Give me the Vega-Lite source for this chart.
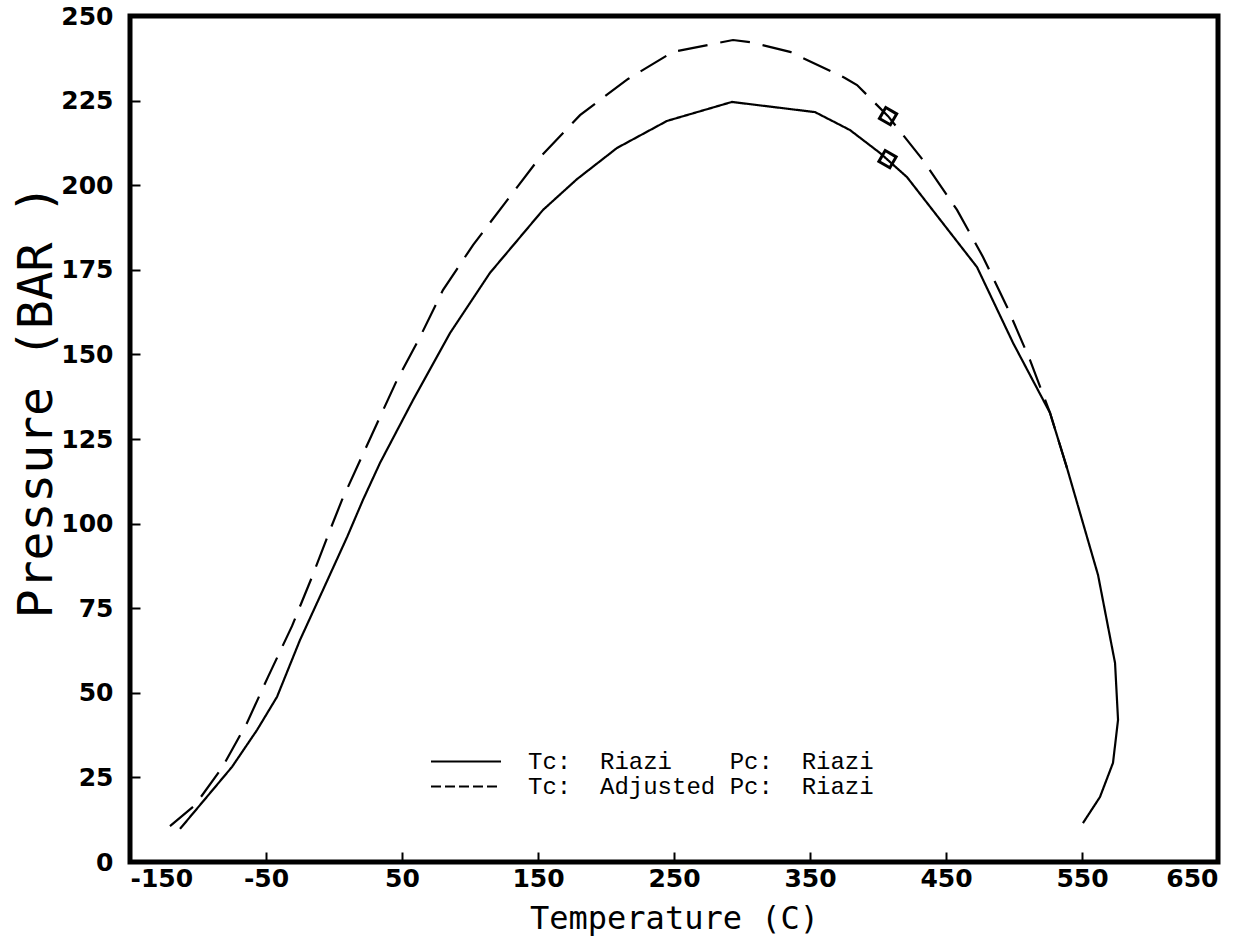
{
  "$schema": "https://vega.github.io/schema/vega-lite/v6.json",
  "width": 1088,
  "height": 846,
  "autosize": {"type": "none"},
  "padding": {"left": 130, "top": 16, "right": 20, "bottom": 85},
  "background": "white",
  "config": {
    "view": {"stroke": "black", "strokeWidth": 5},
    "axis": {
      "grid": false,
      "domain": false,
      "labelFont": "DejaVu Sans",
      "labelFontWeight": "bold",
      "labelFontSize": 25,
      "labelColor": "black",
      "tickColor": "black",
      "tickWidth": 2,
      "tickSize": -10,
      "titleFont": "DejaVu Sans Mono",
      "titleFontWeight": "normal",
      "titleColor": "black"
    }
  },
  "datasets": {
    "curves": [
      {"series": "Riazi", "i": 1, "T": -113.2, "P": 9.8},
      {"series": "Riazi", "i": 2, "T": -75.0, "P": 28.1},
      {"series": "Riazi", "i": 3, "T": -56.6, "P": 39.0},
      {"series": "Riazi", "i": 4, "T": -41.9, "P": 48.8},
      {"series": "Riazi", "i": 5, "T": -25.0, "P": 65.6},
      {"series": "Riazi", "i": 6, "T": -8.1, "P": 80.4},
      {"series": "Riazi", "i": 7, "T": 9.6, "P": 96.0},
      {"series": "Riazi", "i": 8, "T": 21.3, "P": 107.0},
      {"series": "Riazi", "i": 9, "T": 33.8, "P": 117.9},
      {"series": "Riazi", "i": 10, "T": 58.1, "P": 136.5},
      {"series": "Riazi", "i": 11, "T": 85.3, "P": 156.3},
      {"series": "Riazi", "i": 12, "T": 114.7, "P": 174.1},
      {"series": "Riazi", "i": 13, "T": 153.7, "P": 192.7},
      {"series": "Riazi", "i": 14, "T": 178.7, "P": 201.8},
      {"series": "Riazi", "i": 15, "T": 208.1, "P": 211.0},
      {"series": "Riazi", "i": 16, "T": 244.9, "P": 219.0},
      {"series": "Riazi", "i": 17, "T": 292.6, "P": 224.6},
      {"series": "Riazi", "i": 18, "T": 353.7, "P": 221.6},
      {"series": "Riazi", "i": 19, "T": 379.4, "P": 216.3},
      {"series": "Riazi", "i": 20, "T": 401.5, "P": 209.5},
      {"series": "Riazi", "i": 21, "T": 421.3, "P": 202.4},
      {"series": "Riazi", "i": 22, "T": 472.8, "P": 175.8},
      {"series": "Riazi", "i": 23, "T": 499.3, "P": 153.4},
      {"series": "Riazi", "i": 24, "T": 526.5, "P": 132.7},
      {"series": "Riazi", "i": 25, "T": 539.0, "P": 116.4},
      {"series": "Riazi", "i": 26, "T": 561.8, "P": 84.8},
      {"series": "Riazi", "i": 27, "T": 574.3, "P": 58.8},
      {"series": "Riazi", "i": 28, "T": 576.5, "P": 42.0},
      {"series": "Riazi", "i": 29, "T": 572.8, "P": 29.3},
      {"series": "Riazi", "i": 30, "T": 563.2, "P": 19.2},
      {"series": "Riazi", "i": 31, "T": 550.7, "P": 11.5},
      {"series": "Adjusted", "i": 1, "T": -120.6, "P": 10.6},
      {"series": "Adjusted", "i": 2, "T": -102.2, "P": 16.8},
      {"series": "Adjusted", "i": 3, "T": -82.4, "P": 27.8},
      {"series": "Adjusted", "i": 4, "T": -64.0, "P": 41.1},
      {"series": "Adjusted", "i": 5, "T": -48.5, "P": 54.7},
      {"series": "Adjusted", "i": 6, "T": -30.9, "P": 69.7},
      {"series": "Adjusted", "i": 7, "T": -16.2, "P": 84.2},
      {"series": "Adjusted", "i": 8, "T": -2.9, "P": 98.1},
      {"series": "Adjusted", "i": 9, "T": 5.9, "P": 107.0},
      {"series": "Adjusted", "i": 10, "T": 33.8, "P": 131.5},
      {"series": "Adjusted", "i": 11, "T": 46.3, "P": 142.4},
      {"series": "Adjusted", "i": 12, "T": 63.2, "P": 155.1},
      {"series": "Adjusted", "i": 13, "T": 80.1, "P": 169.0},
      {"series": "Adjusted", "i": 14, "T": 102.2, "P": 182.3},
      {"series": "Adjusted", "i": 15, "T": 125.7, "P": 194.7},
      {"series": "Adjusted", "i": 16, "T": 151.5, "P": 208.3},
      {"series": "Adjusted", "i": 17, "T": 180.9, "P": 220.7},
      {"series": "Adjusted", "i": 18, "T": 195.6, "P": 225.2},
      {"series": "Adjusted", "i": 19, "T": 216.2, "P": 231.4},
      {"series": "Adjusted", "i": 20, "T": 249.3, "P": 239.4},
      {"series": "Adjusted", "i": 21, "T": 293.4, "P": 242.9},
      {"series": "Adjusted", "i": 22, "T": 305.9, "P": 242.3},
      {"series": "Adjusted", "i": 23, "T": 335.3, "P": 239.4},
      {"series": "Adjusted", "i": 24, "T": 375.7, "P": 231.7},
      {"series": "Adjusted", "i": 25, "T": 384.6, "P": 229.6},
      {"series": "Adjusted", "i": 26, "T": 407.4, "P": 220.4},
      {"series": "Adjusted", "i": 27, "T": 433.1, "P": 207.4},
      {"series": "Adjusted", "i": 28, "T": 458.1, "P": 192.7},
      {"series": "Adjusted", "i": 29, "T": 477.2, "P": 178.8},
      {"series": "Adjusted", "i": 30, "T": 494.9, "P": 164.0},
      {"series": "Adjusted", "i": 31, "T": 511.8, "P": 148.3},
      {"series": "Adjusted", "i": 32, "T": 526.5, "P": 132.7},
      {"series": "Adjusted", "i": 33, "T": 539.0, "P": 116.4}
    ],
    "markers": [
      {"series": "Riazi", "T": 407.0, "P": 207.7},
      {"series": "Adjusted", "T": 407.4, "P": 220.4}
    ]
  },
  "resolve": {"scale": {"strokeDash": "independent"}, "legend": {"strokeDash": "independent"}},
  "layer": [
    {
      "data": {"name": "curves"},
      "mark": {"type": "line", "color": "black", "strokeWidth": 2.2, "clip": true},
      "encoding": {
        "x": {
          "field": "T", "type": "quantitative",
          "scale": {"domain": [-150, 650], "nice": false, "zero": false},
          "axis": {
            "values": [-150, -50, 50, 150, 250, 350, 450, 550, 650],
            "labelExpr": "toString(datum.value)",
            "labelPadding": 14,
            "title": "Temperature  (C)",
            "titleFontSize": 32,
            "titlePadding": 12
          }
        },
        "y": {
          "field": "P", "type": "quantitative",
          "scale": {"domain": [0, 250], "nice": false},
          "axis": {
            "values": [0, 25, 50, 75, 100, 125, 150, 175, 200, 225, 250],
            "labelPadding": 27,
            "title": "Pressure  (BAR )",
            "titleFontSize": 48,
            "titleAngle": -90,
            "titleAlign": "center",
            "titleBaseline": "middle",
            "titleX": -93,
            "titleY": 385
          }
        },
        "order": {"field": "i", "type": "quantitative"},
        "strokeDash": {
          "field": "series", "type": "nominal",
          "scale": {"domain": ["Riazi", "Adjusted"], "range": [[1, 0], [30, 13]]},
          "legend": null
        }
      }
    },
    {
      "data": {"name": "markers"},
      "transform": [{"filter": "datum.T < -1000"}],
      "mark": {"type": "line", "color": "black", "strokeWidth": 2},
      "encoding": {
        "x": {"field": "T", "type": "quantitative"},
        "y": {"field": "P", "type": "quantitative"},
        "strokeDash": {
          "field": "series", "type": "nominal",
          "scale": {"domain": ["Riazi", "Adjusted"], "range": [[1, 0], [10, 4]]},
          "legend": {
            "title": null,
            "orient": "none",
            "legendX": 300,
            "legendY": 733,
            "padding": 0,
            "symbolType": "stroke",
            "symbolSize": 4900,
            "symbolStrokeWidth": 2,
            "symbolStrokeColor": "black",
            "clipHeight": 25,
            "rowPadding": 0,
            "labelOffset": 26,
            "labelFont": "Liberation Mono",
            "labelFontSize": 24,
            "labelColor": "black",
            "labelLimit": 600,
            "labelExpr": "datum.value === 'Riazi' ? 'Tc:\u00a0\u00a0Riazi\u00a0\u00a0\u00a0\u00a0Pc:\u00a0\u00a0Riazi' : 'Tc:\u00a0\u00a0Adjusted\u00a0Pc:\u00a0\u00a0Riazi'"
          }
        }
      }
    },
    {
      "data": {"name": "markers"},
      "mark": {"type": "point", "shape": "square", "angle": 30, "filled": false, "stroke": "black", "strokeWidth": 3, "size": 160, "opacity": 1},
      "encoding": {
        "x": {"field": "T", "type": "quantitative"},
        "y": {"field": "P", "type": "quantitative"}
      }
    }
  ]
}
